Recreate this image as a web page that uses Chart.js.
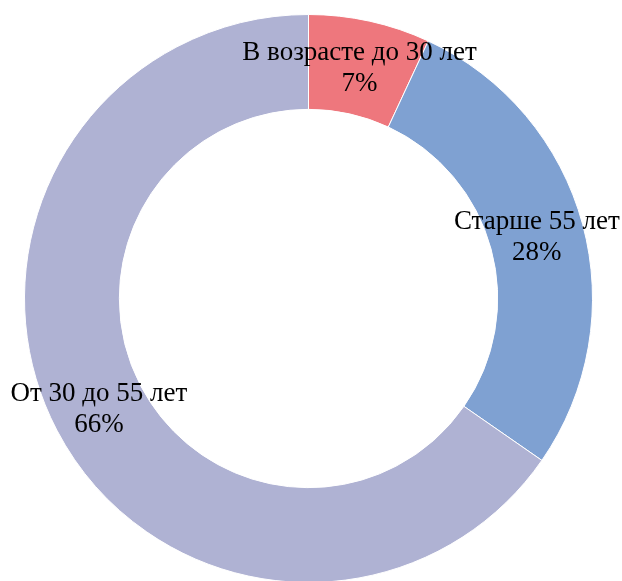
<!DOCTYPE html>
<html lang="ru">
  <head>
    <meta charset="UTF-8">
    <title>Chart</title>
    <script src="https://cdn.jsdelivr.net/npm/chart.js@4/dist/chart.umd.min.js"></script>
    <style>
      html, body { margin: 0; padding: 0; background: #fff; overflow: hidden; }
      #wrap { width: 622px; height: 581px; overflow: hidden; }
    </style>
  </head>
  <body>
    <div id="wrap">
      <canvas id="age_chart" width="622" height="600"></canvas>
    </div>
    <script>
      const categories = ["В возрасте до 30 лет", "Старше 55 лет", "От 30 до 55 лет"];
      const shares = [7, 28, 66];
      const sliceColors = ["#EE777D", "#7FA1D2", "#AFB2D3"];

      // подписи в середине кольца
      const ringLabels = {
        id: 'ringLabels',
        afterDatasetsDraw(chart) {
          const ctx = chart.ctx;
          const meta = chart.getDatasetMeta(0);
          ctx.save();
          ctx.font = '27px "Liberation Serif", "DejaVu Serif", serif';
          ctx.fillStyle = '#000';
          ctx.textBaseline = 'middle';
          ctx.textAlign = 'center';
          const lh = 31;
          meta.data.forEach((arc, i) => {
            const p = arc.tooltipPosition();
            const lines = [categories[i], shares[i] + '%'];
            lines.forEach((t, j) => {
              const y = p.y + 1 + (j - (lines.length - 1) / 2) * lh;
              ctx.fillText(t, p.x, y);
            });
          });
          ctx.restore();
        }
      };

      new Chart(document.getElementById('age_chart'), {
        type: 'doughnut',
        data: {
          labels: categories,
          datasets: [{
            data: shares,
            backgroundColor: sliceColors,
            borderColor: '#ffffff',
            borderWidth: 1
          }]
        },
        options: {
          responsive: false,
          animation: false,
          cutout: '66.6%',
          layout: {
            padding: { left: 24, right: 29, top: 14, bottom: 17 }
          },
          plugins: {
            legend: { display: false },
            tooltip: { enabled: false }
          }
        },
        plugins: [ringLabels]
      });
    </script>
  </body>
</html>
